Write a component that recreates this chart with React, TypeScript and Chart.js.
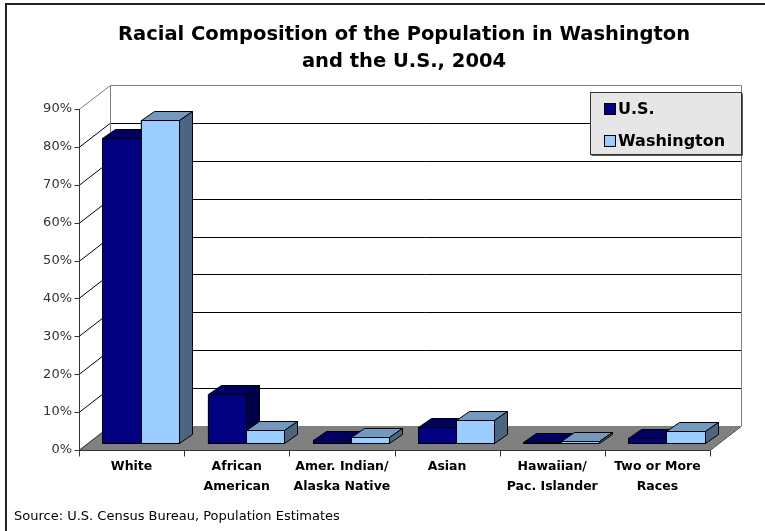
import React, { useEffect, useRef } from "react";
import { Chart, registerables } from "chart.js";

Chart.register(...registerables);

const categories: string[][] = [
  ["White"],
  ["African", "American"],
  ["Amer. Indian/", "Alaska Native"],
  ["Asian"],
  ["Hawaiian/", "Pac. Islander"],
  ["Two or More", "Races"],
];
const seriesNames = ["U.S.", "Washington"];
const usValues = [0.804, 0.129, 0.009, 0.041, 0.002, 0.014];
const waValues = [0.853, 0.033, 0.015, 0.061, 0.004, 0.031];
const yTickValues = [0, 0.1, 0.2, 0.3, 0.4, 0.5, 0.6, 0.7, 0.8, 0.9];
const titleLines = ["Racial Composition of the Population in Washington", "and the U.S., 2004"];
const sourceText = "Source: U.S. Census Bureau, Population Estimates";

const FONT = "'DejaVu Sans', Verdana, sans-serif";
const frontColors = ["#000080", "#99ccff"];
const topColors = ["#000060", "#7399bf"];
const sideColors = ["#00004a", "#4d6680"];

// depth geometry (style)
const DX = 31, DY = -24; // full depth of the plot
const BDX = 13, BDY = -9; // depth of a bar
const OX = 9, OY = -7; // bar plane offset

const threeD = {
  id: "threeD",
  beforeDatasetsDraw(chart: any) {
    const { ctx, chartArea: ca, scales } = chart;
    const y = scales.y;
    const L = ca.left, R = ca.right;
    const T = y.getPixelForValue(0.9), B = y.getPixelForValue(0);
    ctx.save();
    ctx.fillStyle = "#ffffff";
    ctx.beginPath();
    ctx.moveTo(L, T); ctx.lineTo(L + DX, T + DY); ctx.lineTo(L + DX, B + DY); ctx.lineTo(L, B);
    ctx.closePath(); ctx.fill();
    ctx.fillRect(L + DX, T + DY, R - L, B - T);
    ctx.fillStyle = "#808080";
    ctx.beginPath();
    ctx.moveTo(L, B); ctx.lineTo(R, B); ctx.lineTo(R + DX, B + DY); ctx.lineTo(L + DX, B + DY);
    ctx.closePath(); ctx.fill();
    ctx.lineWidth = 1;
    ctx.strokeStyle = "#000000";
    for (const v of yTickValues) {
      if (v === 0 || v === 0.9) continue;
      const py = Math.round(y.getPixelForValue(v)) + 0.5;
      ctx.beginPath();
      ctx.moveTo(L, py); ctx.lineTo(L + DX, py + DY); ctx.lineTo(R + DX, py + DY);
      ctx.stroke();
    }
    ctx.strokeStyle = "#808080";
    const tp = Math.round(T) + 0.5, bp = Math.round(B) + 0.5;
    ctx.beginPath();
    ctx.moveTo(L, tp); ctx.lineTo(L + DX + 0.5, tp + DY); ctx.lineTo(R + DX + 0.5, tp + DY); ctx.lineTo(R + DX + 0.5, bp + DY);
    ctx.moveTo(L + DX + 0.5, tp + DY); ctx.lineTo(L + DX + 0.5, bp + DY);
    ctx.stroke();
    ctx.strokeStyle = "#333333";
    ctx.beginPath();
    ctx.moveTo(L, bp); ctx.lineTo(L + DX, bp + DY);
    ctx.moveTo(R, bp); ctx.lineTo(R + DX, bp + DY);
    ctx.stroke();
    ctx.restore();
    ctx.save();
    ctx.translate(OX, OY);
  },
  afterDatasetsDraw(chart: any) {
    const { ctx, chartArea: ca, scales } = chart;
    ctx.restore();
    const y = scales.y;
    const L = ca.left, R = ca.right;
    const T = y.getPixelForValue(0.9), B = y.getPixelForValue(0);
    ctx.save();
    ctx.translate(OX, OY);
    ctx.lineWidth = 1;
    ctx.strokeStyle = "#000000";
    const n = chart.data.labels.length;
    for (let i = 0; i < n; i++) {
      for (let d = 0; d < chart.data.datasets.length; d++) {
        const el = chart.getDatasetMeta(d).data[i];
        const p = el.getProps(["x", "y", "base", "width"], true);
        const x0 = Math.round(p.x - p.width / 2) + 0.5;
        const x1 = Math.round(p.x + p.width / 2) + 0.5;
        const yt = Math.round(p.y) + 0.5;
        const yb = Math.round(p.base) + 0.5;
        ctx.fillStyle = frontColors[d];
        ctx.fillRect(x0, yt, x1 - x0, yb - yt);
        ctx.strokeRect(x0, yt, x1 - x0, yb - yt);
        ctx.fillStyle = topColors[d];
        ctx.beginPath();
        ctx.moveTo(x0, yt); ctx.lineTo(x0 + BDX, yt + BDY); ctx.lineTo(x1 + BDX, yt + BDY); ctx.lineTo(x1, yt);
        ctx.closePath(); ctx.fill(); ctx.stroke();
        ctx.fillStyle = sideColors[d];
        ctx.beginPath();
        ctx.moveTo(x1, yt); ctx.lineTo(x1 + BDX, yt + BDY); ctx.lineTo(x1 + BDX, yb + BDY); ctx.lineTo(x1, yb);
        ctx.closePath(); ctx.fill(); ctx.stroke();
      }
    }
    ctx.restore();
    ctx.save();
    ctx.lineWidth = 1;
    ctx.strokeStyle = "#333333";
    const lx = Math.round(L) + 0.5;
    const bp = Math.round(B) + 0.5;
    ctx.beginPath();
    ctx.moveTo(lx, Math.round(T)); ctx.lineTo(lx, bp);
    for (const v of yTickValues) {
      const py = Math.round(y.getPixelForValue(v)) + 0.5;
      ctx.moveTo(lx - 5, py); ctx.lineTo(lx, py);
    }
    ctx.moveTo(lx, bp); ctx.lineTo(Math.round(R), bp);
    for (let i = 0; i <= n; i++) {
      const px = Math.round(L + ((R - L) * i) / n) + 0.5;
      ctx.moveTo(px, bp); ctx.lineTo(px, bp + 6);
    }
    ctx.stroke();
    ctx.restore();
  },
  afterDraw(chart: any) {
    const { ctx } = chart;
    ctx.save();
    ctx.fillStyle = "#222222";
    ctx.fillRect(5, 3, 2, 528);
    ctx.fillRect(5, 3, 760, 2);
    ctx.fillStyle = "#000000";
    ctx.textAlign = "center";
    ctx.textBaseline = "middle";
    ctx.font = `bold 19.5px ${FONT}`;
    ctx.fillText(titleLines[0], 404, 35);
    ctx.fillText(titleLines[1], 404, 62);
    // legend
    const lx0 = 590.5, ly0 = 92.5, lw = 151, lh = 62;
    ctx.fillStyle = "#e6e6e6";
    ctx.fillRect(lx0, ly0, lw, lh);
    ctx.strokeStyle = "#333333";
    ctx.lineWidth = 1;
    ctx.strokeRect(lx0, ly0, lw, lh);
    ctx.fillStyle = "#555555";
    ctx.fillRect(lx0 + lw + 0.5, ly0 + 1, 1, lh);
    ctx.fillRect(lx0 + 1, ly0 + lh + 0.5, lw, 1);
    ctx.textAlign = "left";
    ctx.font = `bold 16px ${FONT}`;
    ctx.strokeStyle = "#000000";
    const rows = [109, 140.5];
    for (let d = 0; d < seriesNames.length; d++) {
      ctx.fillStyle = frontColors[d];
      ctx.fillRect(604.5, Math.round(rows[d] - 6) + 0.5, 11, 11);
      ctx.strokeRect(604.5, Math.round(rows[d] - 6) + 0.5, 11, 11);
      ctx.fillStyle = "#000000";
      ctx.fillText(seriesNames[d], 618, rows[d] + 1);
    }
    ctx.font = `13px ${FONT}`;
    ctx.fillStyle = "#000000";
    ctx.textBaseline = "alphabetic";
    ctx.fillText(sourceText, 14, 520);
    ctx.restore();
  },
};

export default function App() {
  const ref = useRef<HTMLCanvasElement | null>(null);
  useEffect(() => {
    document.body.style.margin = "0";
    const canvas = ref.current!;
    const chart = new Chart(canvas, {
      type: "bar",
      data: {
        labels: categories,
        datasets: [
          { label: seriesNames[0], data: usValues, backgroundColor: frontColors[0], borderColor: "#000", borderWidth: 1 },
          { label: seriesNames[1], data: waValues, backgroundColor: frontColors[1], borderColor: "#000", borderWidth: 1 },
        ],
      },
      options: {
        responsive: false,
        animation: false,
        devicePixelRatio: 1,
        layout: { padding: { left: 0, top: 109, right: 55, bottom: 0 } },
        datasets: { bar: { categoryPercentage: 0.725, barPercentage: 1 } },
        plugins: { legend: { display: false }, title: { display: false }, tooltip: { enabled: false } },
        scales: {
          x: {
            offset: true,
            grid: { display: false, drawTicks: false },
            border: { display: false },
            ticks: {
              color: "#000000",
              font: { family: FONT, size: 12.5, weight: "bold", lineHeight: "20px" } as any,
              padding: 7,
              maxRotation: 0,
              autoSkip: false,
            },
            afterFit: (s: any) => { s.height = 81; },
          },
          y: {
            min: 0,
            max: 0.9,
            grid: { display: false, drawTicks: false },
            border: { display: false },
            ticks: {
              stepSize: 0.1,
              color: "#333333",
              font: { family: FONT, size: 13 },
              padding: 7,
              callback: (v: any) => `${Math.round(Number(v) * 100)}%`,
            },
            afterFit: (s: any) => { s.width = 79; },
          },
        },
      },
      plugins: [threeD],
    });
    return () => chart.destroy();
  }, []);
  return <canvas ref={ref} width={765} height={531} style={{ display: "block" }} />;
}
